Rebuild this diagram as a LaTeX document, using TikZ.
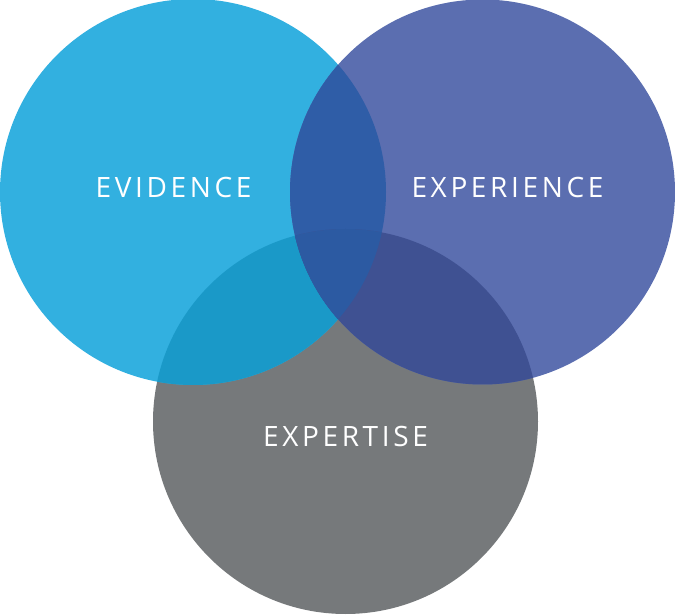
\documentclass[tikz,border=0pt]{standalone}
\usepackage{fontspec}
\setsansfont{Open Sans}[LetterSpace=13]
\definecolor{cyanc}{HTML}{32B0E0}
\definecolor{purplec}{HTML}{5B6EB0}
\definecolor{grayc}{HTML}{76797B}
\definecolor{lr}{HTML}{2F5DA7}
\definecolor{lb}{HTML}{1A99C8}
\definecolor{rb}{HTML}{3F5192}
\definecolor{lrb}{HTML}{2C5AA2}
\begin{document}
\begin{tikzpicture}[x=1pt,y=1pt,
  lbl/.style={text=white,font=\sffamily\fontsize{28}{28}\selectfont,inner sep=0pt}]
\useasboundingbox (0,0) rectangle (675,614);
\def\L{(193,422) circle (193)}
\def\R{(482.5,422) circle (192.5)}
\def\B{(345.5,192.5) circle (192.5)}
\fill[grayc] \B;
\fill[cyanc] \L;
\fill[purplec] \R;
\begin{scope}\clip \L; \fill[lb] \B; \fill[lr] \R; \end{scope}
\begin{scope}\clip \R; \fill[rb] \B; \end{scope}
\begin{scope}\clip \L; \clip \R; \fill[lrb] \B; \end{scope}
\node[lbl] (ev) at (173.5,426) {EVIDENCE};
\node[lbl] (ex) at (507.5,426) {EXPERIENCE};
\node[lbl] (et) at (345.5,178) {EXPERTISE};
\end{tikzpicture}
\end{document}
